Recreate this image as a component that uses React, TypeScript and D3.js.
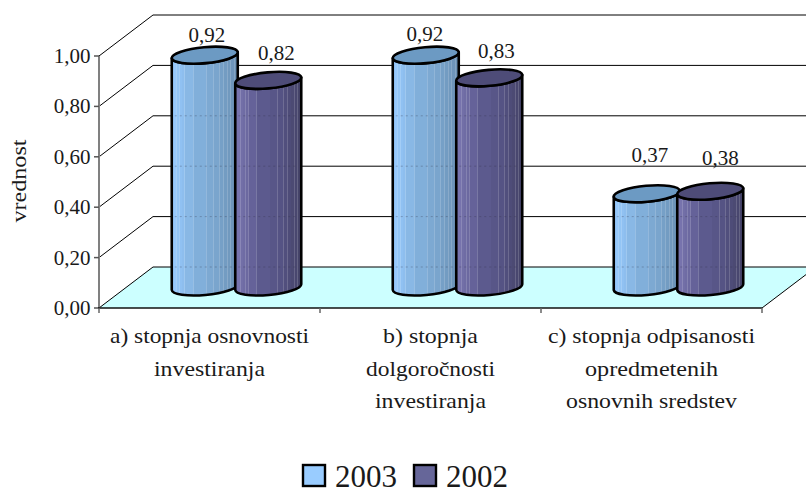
import React from "react";
import * as d3 from "d3";

// Financial ratios per category, two reporting years
const categories = ["a", "b", "c"];
const categoryLines = [
  ["a) stopnja osnovnosti", "investiranja"],
  ["b) stopnja", "dolgoročnosti", "investiranja"],
  ["c) stopnja odpisanosti", "opredmetenih", "osnovnih sredstev"],
];
const years = ["2003", "2002"];
const values2003 = [0.92, 0.92, 0.37];
const values2002 = [0.82, 0.83, 0.38];
const yTicks = [0, 0.2, 0.4, 0.6, 0.8, 1];
const axisTitle = "vrednost";

// Layout
const W = 806;
const H = 488;
const SERIF = "'Liberation Serif', serif";
const plotLeft = 99;
const plotRight = 762;
const plotBottom = 308;
const plotTop = 56;
const depthX = 54;
const depthY = 41;
const barWidth = 66;
const barStep = 63.5;
const barLift = 18; // cylinder base sits this far above the front floor edge
const tiltRise = 6; // right rim of each ellipse rises by this much
const ellipseRy = 8;

const x = d3.scaleBand<string>().domain(categories).range([plotLeft, plotRight]);
const y = d3.scaleLinear().domain([0, 1]).range([plotBottom, plotTop]);
const fmt = (v: number) => v.toFixed(2).replace(".", ",");

// Hand-placed value labels: offset from the cylinder's left rim point
const labelNudge2003 = [[35, -16], [32, -17], [36, -35]];
const labelNudge2002 = [[41, -23], [40, -23], [43, -29]];

// Set widths of the category label lines
const lineWidths = [[199, 111], [95, 129, 111], [207, 133, 171]];

// Vertical shading of the cylinder sides, with thin bright streaks
const streaks = [0.07, 0.11, 0.15, 0.19, 0.32, 0.52, 0.63, 0.72, 0.78, 0.84, 0.89, 0.94];

function sideStops(colors: string[]) {
  const shade = d3.piecewise(d3.interpolateRgb, colors);
  const stops: { offset: number; color: string }[] = [];
  const edges = [0, ...streaks.flatMap((s) => [s, s + 0.012]), 1];
  edges.slice(0, -1).forEach((start, i) => {
    const end = edges[i + 1];
    const base = shade((start + end) / 2);
    const color = i % 2 === 1 ? d3.interpolateRgb(base, "#ffffff")(0.16) : base;
    stops.push({ offset: start, color }, { offset: end, color });
  });
  return stops;
}

const seriesStyles = [
  { id: "side2003", values: values2003, nudge: labelNudge2003, swatch: "#99CCFF", top: "#6C9AC3", stops: sideStops(["#99CCFF", "#84B2DE", "#7BA6CE", "#6A90B4"]) },
  { id: "side2002", values: values2002, nudge: labelNudge2002, swatch: "#666699", top: "#4E4C78", stops: sideStops(["#7A76B0", "#5F5D92", "#565485", "#454368"]) },
];

function cylinderSide(left: number, topY: number, baseY: number) {
  const rx = Math.hypot(barWidth / 2, tiltRise / 2);
  const rot = (-Math.atan2(tiltRise, barWidth) * 180) / Math.PI;
  const r = left + barWidth;
  return `M${left},${topY} L${left},${baseY} A${rx},${ellipseRy} ${rot} 0 0 ${r},${baseY - tiltRise} L${r},${topY - tiltRise} A${rx},${ellipseRy} ${rot} 0 1 ${left},${topY} Z`;
}

function Cylinder({ left, value, fill, top }: { left: number; value: number; fill: string; top: string }) {
  const baseY = y(0) - barLift;
  const topY = y(value) - barLift;
  const rx = Math.hypot(barWidth / 2, tiltRise / 2);
  const rot = (-Math.atan2(tiltRise, barWidth) * 180) / Math.PI;
  const wallLines = yTicks.map((t) => y(t) - depthY).filter((gy) => gy > topY + 8 && gy < baseY);
  return (
    <g>
      <path d={cylinderSide(left, topY, baseY)} fill={`url(#${fill})`} stroke="#000" strokeWidth={2.6} strokeLinejoin="round" />
      {wallLines.map((gy) => (
        <line key={gy} x1={left + 3} x2={left + barWidth - 3} y1={gy} y2={gy} stroke="#334" strokeOpacity={0.3} strokeDasharray="2 3" />
      ))}
      <ellipse
        cx={left + barWidth / 2}
        cy={topY - tiltRise / 2}
        rx={rx}
        ry={ellipseRy}
        transform={`rotate(${rot} ${left + barWidth / 2} ${topY - tiltRise / 2})`}
        fill={top}
        stroke="#000"
        strokeWidth={2.6}
      />
    </g>
  );
}

export default function App() {
  const bandLeft = (c: string) => x(c)! + x.bandwidth() / 2 + depthX / 2 - (barStep + barWidth) / 2;
  return (
    <svg
      width={W}
      height={H}
      viewBox={`0 0 ${W} ${H}`}
      style={{ position: "absolute", left: 0, top: 0, display: "block", background: "#fff" }}
      fontFamily={SERIF}
      fill="#1a1a1a"
    >
      <defs>
        {seriesStyles.map((s) => (
          <linearGradient key={s.id} id={s.id} x1="0" x2="1" y1="0" y2="0">
            {s.stops.map((st, i) => (
              <stop key={i} offset={st.offset} stopColor={st.color} />
            ))}
          </linearGradient>
        ))}
      </defs>

      {/* floor */}
      <polygon
        points={`${plotLeft},${y(0)} ${plotLeft + depthX},${y(0) - depthY} ${plotRight + depthX},${y(0) - depthY} ${plotRight},${y(0)}`}
        fill="#CCFFFF"
      />

      {/* back wall gridlines and the diagonals running down to the axis */}
      {yTicks.map((t) => (
        <g key={t} stroke="#000" strokeWidth={1}>
          <line x1={plotLeft + depthX} x2={W} y1={y(t) - depthY} y2={y(t) - depthY} />
          <line x1={plotLeft} y1={y(t)} x2={plotLeft + depthX} y2={y(t) - depthY} />
        </g>
      ))}
      <line x1={plotRight} y1={y(0)} x2={plotRight + depthX} y2={y(0) - depthY} stroke="#000" strokeWidth={1} />

      {/* value axis */}
      <line x1={plotLeft} x2={plotLeft} y1={plotTop} y2={plotBottom} stroke="#808080" strokeWidth={2} />
      {yTicks.map((t) => (
        <g key={t}>
          <line x1={plotLeft - 5} x2={plotLeft} y1={y(t)} y2={y(t)} stroke="#555" strokeWidth={1.5} />
          <text x={90.5} y={y(t) + 7} textAnchor="end" fontSize={21}>
            {fmt(t)}
          </text>
        </g>
      ))}
      <text transform="translate(26,181) rotate(-90)" textAnchor="middle" fontSize={21} textLength={83} lengthAdjust="spacingAndGlyphs">
        {axisTitle}
      </text>

      {/* category axis */}
      <line x1={plotLeft - 1} x2={plotRight} y1={plotBottom} y2={plotBottom} stroke="#111" strokeWidth={1.5} />
      {[...categories.map((c) => x(c)!), plotRight].map((tx) => (
        <line key={tx} x1={tx} x2={tx} y1={plotBottom} y2={plotBottom + 5} stroke="#666" strokeWidth={1.5} />
      ))}
      {categories.map((c, i) =>
        categoryLines[i].map((line, j) => (
          <text
            key={line}
            x={x(c)! + x.bandwidth() / 2}
            y={343 + j * 32.7}
            textAnchor="middle"
            fontSize={21.5}
            textLength={lineWidths[i][j]}
            lengthAdjust="spacingAndGlyphs"
          >
            {line}
          </text>
        ))
      )}

      {/* cylinders: each later series overlaps the earlier one */}
      {categories.map((c, i) => (
        <g key={c}>
          {seriesStyles.map((s, k) => (
            <Cylinder key={s.id} left={bandLeft(c) + k * barStep} value={s.values[i]} fill={s.id} top={s.top} />
          ))}
        </g>
      ))}

      {/* value labels */}
      {categories.map((c, i) =>
        seriesStyles.map((s, k) => (
          <text
            key={s.id + c}
            x={bandLeft(c) + k * barStep + s.nudge[i][0]}
            y={y(s.values[i]) - barLift + s.nudge[i][1]}
            textAnchor="middle"
            fontSize={21}
          >
            {fmt(s.values[i])}
          </text>
        ))
      )}

      {/* legend */}
      {seriesStyles.map((s, k) => (
        <g key={s.id} transform={`translate(${303 + k * 111},0)`}>
          <rect x={0} y={465} width={22} height={21} fill={s.swatch} stroke="#000" strokeWidth={2.4} />
          <text x={32} y={487} fontSize={31}>
            {years[k]}
          </text>
        </g>
      ))}
    </svg>
  );
}
